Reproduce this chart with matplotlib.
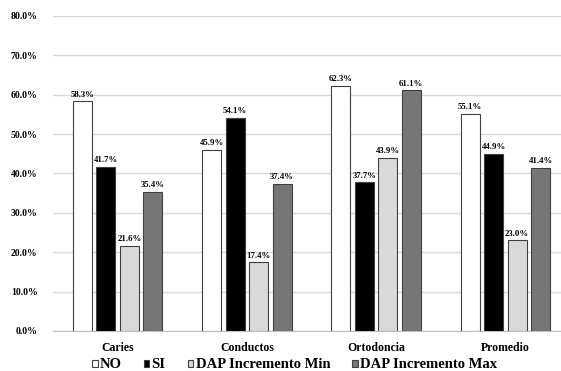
import numpy as np
import matplotlib.pyplot as plt
from matplotlib.ticker import PercentFormatter

# datos
categorias = ['Caries', 'Conductos', 'Ortodoncia', 'Promedio']
series = ['NO', 'SI', 'DAP Incremento Min', 'DAP Incremento Max']
no_vals = [58.3, 45.9, 62.3, 55.1]
si_vals = [41.7, 54.1, 37.7, 44.9]
min_vals = [21.6, 17.4, 43.9, 23.0]
max_vals = [35.4, 37.4, 61.1, 41.4]
colores = ['#ffffff', '#000000', '#d9d9d9', '#767676']

plt.rcParams['font.family'] = ['Liberation Serif', 'DejaVu Serif']
plt.rcParams['font.weight'] = 'bold'

fig = plt.figure(figsize=(5.61, 3.71), dpi=100)
ax = fig.add_axes([0.0945, 0.108, 0.9216, 0.849])

x = np.arange(len(categorias))
ancho = 0.147
paso = 0.182
valores = [no_vals, si_vals, min_vals, max_vals]
for i, (vals, c, nombre) in enumerate(zip(valores, colores, series)):
    pos = x + (i - 1.5) * paso
    barras = ax.bar(pos, vals, width=ancho, color=c, edgecolor='#404040',
                    linewidth=0.8, label=nombre, zorder=3)
    for b, v in zip(barras, vals):
        ax.text(b.get_x() + b.get_width() / 2, v + 0.7, f'{v:.1f}%',
                ha='center', va='bottom', fontsize=6.3, fontweight='bold')

ax.set_ylim(0, 80)
ax.set_xlim(-0.5, 3.5)
ax.set_yticks(np.arange(0, 81, 10))
ax.yaxis.set_major_formatter(PercentFormatter(decimals=1))
ax.set_xticks(x)
ax.set_xticklabels(categorias, fontsize=8.5, fontweight='bold')
ax.tick_params(axis='y', labelsize=7, length=0, pad=11)
ax.tick_params(axis='x', length=0, pad=8)
ax.grid(axis='y', color='#d9d9d9', linewidth=1, zorder=0)
for s in ['top', 'right', 'left']:
    ax.spines[s].set_visible(False)
ax.spines['bottom'].set_color('#bfbfbf')

ax.legend(loc='center', bbox_to_anchor=(0.467, -0.108), ncol=4,
          frameon=False, handlelength=0.4, handleheight=0.4,
          handletextpad=0.15, columnspacing=1.5,
          prop={'weight': 'bold', 'size': 10.5})

fig.savefig('out.png', dpi=100)
